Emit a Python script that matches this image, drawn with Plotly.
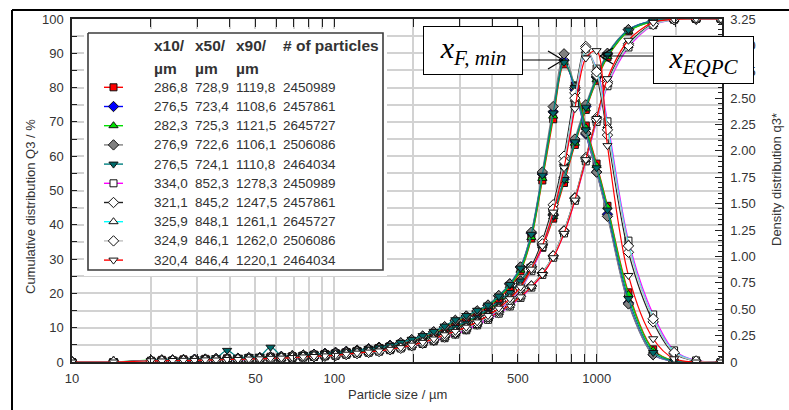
import plotly.graph_objects as go

# Particle size classes (µm)
size_um = [10, 14.4, 20, 22, 24.2, 26.6, 29.3, 32.2, 35.4, 39, 42.9, 47.2, 51.9, 57.1,
           62.8, 69.1, 76, 83.6, 92, 101, 111, 122, 135, 148, 163, 179, 197, 217, 239,
           263, 289, 318, 350, 385, 423, 466, 512, 563, 620, 682, 750, 825, 908, 998,
           1098, 1320, 1640, 1970, 2390, 2970]

# Cumulative distribution Q3 (%) - x_F,min measurements
Q3_red_sq = [0, 0, 0.2, 0.25, 0.3, 0.4, 0.5, 0.55, 0.65, 0.75, 0.9, 1.0, 1.15, 1.3, 1.45, 1.65, 1.85, 2.1, 2.35,
             2.6, 2.9, 3.25, 3.65, 4.1, 4.6, 5.2, 5.85, 6.65, 7.6, 8.65, 9.9, 11.4, 13.1, 15.0, 17.2, 19.8, 23.0,
             27.2, 33.3, 41.8, 52.2, 63.3, 73.5, 82.0, 88.8, 96.4, 99.3, 99.9, 100, 100]
Q3_blue_dia = [0, 0, 0.2, 0.3, 0.35, 0.45, 0.55, 0.6, 0.7, 0.85, 0.95, 1.1, 1.25, 1.4, 1.6, 1.8, 2.0, 2.25, 2.5,
               2.8, 3.1, 3.45, 3.85, 4.3, 4.8, 5.4, 6.1, 6.9, 7.9, 9.0, 10.3, 11.8, 13.5, 15.4, 17.6, 20.3, 23.6,
               27.9, 34.2, 42.8, 53.3, 64.4, 74.5, 83.0, 89.8, 96.9, 99.5, 99.9, 100, 100]
Q3_green_tri = [0, 0, 0.2, 0.3, 0.35, 0.4, 0.5, 0.6, 0.7, 0.8, 0.95, 1.05, 1.2, 1.35, 1.5, 1.7, 1.9, 2.15, 2.4,
                2.7, 3.0, 3.35, 3.75, 4.2, 4.7, 5.3, 6.0, 6.8, 7.75, 8.85, 10.1, 11.6, 13.3, 15.2, 17.4, 20.1, 23.4,
                27.7, 33.9, 42.4, 52.9, 63.8, 73.8, 82.3, 89.0, 96.4, 99.3, 99.9, 100, 100]
Q3_gray_dia = [0, 0, 0.25, 0.3, 0.4, 0.45, 0.55, 0.65, 0.75, 0.85, 1.0, 1.1, 1.25, 1.45, 1.6, 1.8, 2.0, 2.25, 2.5,
               2.8, 3.1, 3.45, 3.85, 4.3, 4.85, 5.45, 6.15, 6.95, 7.95, 9.05, 10.35, 11.85, 13.55, 15.45, 17.6,
               20.3, 23.6, 27.8, 34.1, 42.9, 53.8, 65.0, 75.0, 83.3, 90.0, 96.9, 99.5, 99.9, 100, 100]
Q3_teal_tri = [0, 0, 0.2, 0.3, 0.35, 0.45, 0.55, 0.65, 0.75, 0.9, 1.0, 1.15, 1.3, 1.5, 1.65, 1.85, 2.05, 2.3, 2.55,
               2.85, 3.15, 3.5, 3.9, 4.35, 4.85, 5.45, 6.15, 6.95, 7.9, 9.0, 10.3, 11.8, 13.5, 15.4, 17.6, 20.3,
               23.6, 27.9, 34.2, 42.7, 53.2, 64.2, 74.3, 82.8, 89.6, 96.8, 99.5, 99.9, 100, 100]

# Cumulative distribution Q3 (%) - x_EQPC measurements
Q3_mag_sq = [0, 0, 0.15, 0.2, 0.2, 0.25, 0.3, 0.4, 0.45, 0.5, 0.6, 0.7, 0.8, 0.9, 1.05, 1.2, 1.35, 1.5, 1.7,
             1.95, 2.2, 2.5, 2.8, 3.15, 3.6, 4.1, 4.6, 5.25, 6.05, 6.95, 8.0, 9.25, 10.7, 12.3, 14.1, 16.2, 18.7,
             21.7, 25.4, 30.4, 37.5, 47.0, 58.5, 70.0, 80.4, 91.7, 98.2, 99.8, 100, 100]
Q3_black_dia = [0, 0, 0.15, 0.2, 0.25, 0.3, 0.4, 0.45, 0.5, 0.6, 0.7, 0.8, 0.9, 1.0, 1.15, 1.3, 1.45, 1.65, 1.85,
                2.1, 2.35, 2.65, 3.0, 3.4, 3.85, 4.35, 4.9, 5.55, 6.4, 7.35, 8.45, 9.7, 11.2, 12.8, 14.6, 16.7,
                19.2, 22.2, 26.0, 31.0, 38.3, 47.9, 59.6, 71.2, 81.7, 92.8, 98.6, 99.8, 100, 100]
Q3_cyan_tri = [0, 0, 0.15, 0.2, 0.25, 0.3, 0.35, 0.4, 0.5, 0.55, 0.65, 0.75, 0.85, 0.95, 1.1, 1.25, 1.4, 1.6, 1.8,
               2.05, 2.3, 2.6, 2.95, 3.3, 3.75, 4.25, 4.8, 5.45, 6.25, 7.2, 8.3, 9.55, 11.0, 12.6, 14.4, 16.5,
               19.0, 22.0, 25.8, 30.8, 38.0, 47.5, 59.0, 70.5, 81.0, 92.3, 98.4, 99.8, 100, 100]
Q3_silver_dia = [0, 0, 0.15, 0.2, 0.25, 0.35, 0.4, 0.45, 0.5, 0.6, 0.65, 0.75, 0.85, 1.0, 1.1, 1.25, 1.45, 1.6,
                 1.85, 2.05, 2.35, 2.65, 2.95, 3.35, 3.8, 4.3, 4.85, 5.5, 6.3, 7.25, 8.35, 9.6, 11.05, 12.65,
                 14.45, 16.55, 19.05, 22.1, 25.9, 30.9, 38.1, 47.7, 59.2, 70.7, 81.1, 92.3, 98.4, 99.8, 100, 100]
Q3_red_tri = [0, 0, 0.15, 0.2, 0.25, 0.3, 0.4, 0.45, 0.5, 0.6, 0.7, 0.8, 0.9, 1.0, 1.15, 1.3, 1.5, 1.65, 1.85,
              2.1, 2.4, 2.7, 3.05, 3.45, 3.9, 4.4, 4.95, 5.6, 6.45, 7.4, 8.5, 9.75, 11.2, 12.8, 14.6, 16.6, 19.0,
              21.9, 25.5, 30.4, 37.5, 47.2, 59.0, 71.0, 82.6, 93.8, 99.0, 99.9, 100, 100]

# Density distribution q3* - x_F,min measurements
q3_red_sq = [0, 0, 0.012, 0.02, 0.015, 0.025, 0.02, 0.03, 0.028, 0.035, 0.03, 0.04, 0.038, 0.05, 0.045, 0.055,
             0.06, 0.07, 0.072, 0.08, 0.088, 0.1, 0.11, 0.13, 0.145, 0.175, 0.2, 0.235, 0.275, 0.32, 0.38, 0.42,
             0.47, 0.52, 0.6, 0.71, 0.86, 1.17, 1.72, 2.3, 2.82, 2.62, 2.24, 1.88, 1.48, 0.66, 0.12, 0.01, 0, 0]
q3_blue_dia = [0, 0, 0.015, 0.018, 0.02, 0.02, 0.026, 0.025, 0.032, 0.03, 0.036, 0.04, 0.042, 0.045, 0.052, 0.055,
               0.065, 0.068, 0.076, 0.082, 0.09, 0.1, 0.118, 0.13, 0.155, 0.18, 0.21, 0.245, 0.285, 0.33, 0.39,
               0.435, 0.48, 0.535, 0.625, 0.74, 0.9, 1.22, 1.78, 2.37, 2.86, 2.58, 2.16, 1.8, 1.4, 0.56, 0.07,
               0.005, 0, 0]
q3_green_tri = [0, 0, 0.018, 0.015, 0.022, 0.02, 0.025, 0.03, 0.027, 0.034, 0.038, 0.036, 0.044, 0.048, 0.05,
                0.058, 0.062, 0.07, 0.074, 0.08, 0.092, 0.1, 0.112, 0.13, 0.15, 0.178, 0.21, 0.24, 0.28, 0.33,
                0.385, 0.43, 0.48, 0.53, 0.615, 0.725, 0.87, 1.18, 1.74, 2.33, 2.84, 2.62, 2.22, 1.86, 1.47, 0.64,
                0.11, 0.01, 0, 0]
q3_gray_dia = [0, 0, 0.016, 0.02, 0.018, 0.024, 0.025, 0.028, 0.032, 0.03, 0.036, 0.04, 0.04, 0.047, 0.05, 0.057,
               0.064, 0.07, 0.075, 0.083, 0.09, 0.102, 0.116, 0.132, 0.152, 0.182, 0.212, 0.245, 0.285, 0.335,
               0.395, 0.435, 0.485, 0.54, 0.63, 0.74, 0.9, 1.23, 1.8, 2.42, 2.92, 2.6, 2.17, 1.8, 1.38, 0.55,
               0.07, 0.005, 0, 0]
q3_teal_tri = [0, 0, 0.015, 0.02, 0.025, 0.022, 0.03, 0.035, 0.04, 0.11, 0.045, 0.05, 0.055, 0.14, 0.06, 0.035,
               0.07, 0.075, 0.08, 0.085, 0.095, 0.105, 0.12, 0.135, 0.155, 0.185, 0.215, 0.25, 0.29, 0.34, 0.4,
               0.44, 0.49, 0.54, 0.625, 0.735, 0.89, 1.21, 1.77, 2.36, 2.84, 2.6, 2.2, 1.84, 1.44, 0.6, 0.09,
               0.008, 0, 0]

# Density distribution q3* - x_EQPC measurements
q3_mag_sq = [0, 0, 0.01, 0.008, 0.012, 0.014, 0.012, 0.018, 0.017, 0.022, 0.02, 0.025, 0.03, 0.03, 0.036, 0.038,
             0.044, 0.048, 0.055, 0.058, 0.068, 0.078, 0.088, 0.098, 0.112, 0.128, 0.15, 0.175, 0.205, 0.24,
             0.275, 0.31, 0.36, 0.42, 0.49, 0.58, 0.69, 0.86, 1.09, 1.42, 1.86, 2.45, 2.94, 2.78, 2.28, 1.15,
             0.45, 0.11, 0.015, 0]
q3_black_dia = [0, 0, 0.012, 0.012, 0.015, 0.013, 0.017, 0.018, 0.02, 0.022, 0.025, 0.027, 0.03, 0.034, 0.038,
                0.042, 0.046, 0.052, 0.056, 0.062, 0.072, 0.082, 0.092, 0.102, 0.118, 0.134, 0.158, 0.185, 0.215,
                0.255, 0.285, 0.325, 0.375, 0.435, 0.505, 0.6, 0.71, 0.9, 1.15, 1.49, 1.95, 2.55, 2.99, 2.72,
                2.15, 1.04, 0.38, 0.08, 0.008, 0]
q3_cyan_tri = [0, 0, 0.01, 0.012, 0.011, 0.015, 0.016, 0.016, 0.02, 0.02, 0.024, 0.026, 0.028, 0.034, 0.035,
               0.04, 0.045, 0.05, 0.054, 0.06, 0.07, 0.079, 0.09, 0.1, 0.114, 0.13, 0.155, 0.18, 0.21, 0.25, 0.28,
               0.32, 0.37, 0.43, 0.5, 0.59, 0.7, 0.87, 1.11, 1.44, 1.89, 2.49, 2.95, 2.77, 2.24, 1.12, 0.42, 0.1,
               0.012, 0]
q3_silver_dia = [0, 0, 0.01, 0.011, 0.013, 0.014, 0.015, 0.018, 0.019, 0.021, 0.024, 0.026, 0.03, 0.032, 0.037,
                 0.04, 0.046, 0.05, 0.056, 0.06, 0.071, 0.08, 0.091, 0.1, 0.116, 0.13, 0.156, 0.18, 0.21, 0.25,
                 0.28, 0.32, 0.37, 0.43, 0.5, 0.59, 0.7, 0.88, 1.12, 1.45, 1.9, 2.5, 2.97, 2.75, 2.2, 1.1, 0.41,
                 0.09, 0.01, 0]
q3_red_tri = [0, 0, 0.012, 0.01, 0.014, 0.016, 0.015, 0.02, 0.019, 0.024, 0.024, 0.028, 0.03, 0.035, 0.037,
              0.042, 0.048, 0.052, 0.058, 0.063, 0.074, 0.084, 0.094, 0.105, 0.12, 0.136, 0.16, 0.186, 0.218,
              0.258, 0.29, 0.33, 0.38, 0.44, 0.51, 0.6, 0.71, 0.88, 1.1, 1.42, 1.84, 2.4, 2.88, 2.95, 2.05, 0.82,
              0.22, 0.03, 0, 0]

# Legend table values
x10_um = ["286,8", "276,5", "282,3", "276,9", "276,5", "334,0", "321,1", "325,9", "324,9", "320,4"]
x50_um = ["728,9", "723,4", "725,3", "722,6", "724,1", "852,3", "845,2", "848,1", "846,1", "846,4"]
x90_um = ["1119,8", "1108,6", "1121,5", "1106,1", "1110,8", "1278,3", "1247,5", "1261,1", "1262,0", "1220,1"]
n_particles = ["2450989", "2457861", "2645727", "2506086", "2464034",
               "2450989", "2457861", "2645727", "2506086", "2464034"]

# Axis tick labels
x_tick_labels = {10: "10", 50: "50", 100: "100", 500: "500", 1000: "1000"}
q3_tick_labels = ["0", "0.25", "0.50", "0.75", "1.00", "1.25", "1.50", "1.75", "2.00",
                  "2.25", "2.50", "2.75", "3.00", "3.25"]

cum_series = [Q3_red_sq, Q3_blue_dia, Q3_green_tri, Q3_gray_dia, Q3_teal_tri,
              Q3_mag_sq, Q3_black_dia, Q3_cyan_tri, Q3_silver_dia, Q3_red_tri]
dens_series = [q3_red_sq, q3_blue_dia, q3_green_tri, q3_gray_dia, q3_teal_tri,
               q3_mag_sq, q3_black_dia, q3_cyan_tri, q3_silver_dia, q3_red_tri]

# Styles
line_colors = ["#ff0000", "#0000ff", "#00e000", "#808080", "#008080",
               "#ff00ff", "#202020", "#00ffff", "#c0c0c0", "#ff0000"]
symbols = ["square", "diamond", "triangle-up", "diamond", "triangle-down",
           "square", "diamond", "triangle-up", "diamond", "triangle-down"]
fills = ["#ff0000", "#0000ff", "#00e000", "#808080", "#006a6a",
         "#ffffff", "#ffffff", "#ffffff", "#ffffff", "#ffffff"]
msizes = [7, 8, 8, 8, 8, 7, 8, 8, 8, 8]

TXT = "#333333"
FONT = "Liberation Sans, Arial, sans-serif"

W, H = 789, 410
L, R, T, B = 72, 722, 19, 362


def px(x):
    return (x - L) / (R - L)


def py(y):
    return (B - y) / (B - T)


fig = go.Figure()

for i in range(10):
    mk = dict(symbol=symbols[i], size=msizes[i], color=fills[i],
              line=dict(color="#111111", width=1))
    ln = dict(color=line_colors[i], width=1.2, shape="spline", smoothing=0.9)
    fig.add_trace(go.Scatter(x=size_um, y=cum_series[i], mode="lines+markers",
                             line=ln, marker=mk, yaxis="y", showlegend=False,
                             hoverinfo="skip"))
    fig.add_trace(go.Scatter(x=size_um, y=dens_series[i], mode="lines+markers",
                             line=ln, marker=mk, yaxis="y2", showlegend=False,
                             hoverinfo="skip"))

# Legend table panel on its own small subplot (pixel-like coordinates)
lx0, lx1, ly0, ly1 = 84, 387, 29, 276
fig.add_trace(go.Scatter(x=[88, 383, 383, 88, 88], y=[33, 33, 270, 270, 33],
                         mode="lines", fill="toself", fillcolor="white",
                         line=dict(color="#3c3c3c", width=1.6),
                         xaxis="x3", yaxis="y3", showlegend=False, hoverinfo="skip"))
row_y = [87.3 + 19.2 * k for k in range(10)]
for i in range(10):
    fig.add_trace(go.Scatter(x=[104, 123], y=[row_y[i], row_y[i]], mode="lines",
                             line=dict(color=line_colors[i], width=1.4),
                             xaxis="x3", yaxis="y3", showlegend=False, hoverinfo="skip"))
    fig.add_trace(go.Scatter(x=[113.5], y=[row_y[i]], mode="markers",
                             marker=dict(symbol=symbols[i], size=msizes[i], color=fills[i],
                                         line=dict(color="#111111", width=1)),
                             xaxis="x3", yaxis="y3", showlegend=False, hoverinfo="skip"))

annotations = []
col_x = [152, 193, 234, 281]
for cx, head in zip(col_x, ["x10/", "x50/", "x90/", "# of particles"]):
    annotations.append(dict(x=cx, y=46, xref="x3", yref="y3", text="<b>%s</b>" % head,
                            showarrow=False, xanchor="left", yanchor="middle",
                            font=dict(family=FONT, size=15.5, color=TXT)))
for cx in col_x[:3]:
    annotations.append(dict(x=cx, y=68, xref="x3", yref="y3", text="<b>µm</b>",
                            showarrow=False, xanchor="left", yanchor="middle",
                            font=dict(family=FONT, size=15.5, color=TXT)))
for i in range(10):
    for cx, val in zip(col_x, [x10_um[i], x50_um[i], x90_um[i], n_particles[i]]):
        annotations.append(dict(x=cx, y=row_y[i], xref="x3", yref="y3", text=val,
                                showarrow=False, xanchor="left", yanchor="middle",
                                font=dict(family=FONT, size=13.5, color=TXT)))

# Axis titles
annotations.append(dict(x=px(397), y=py(395), xref="paper", yref="paper",
                        xanchor="center", yanchor="middle",
                        text="Particle size / µm", showarrow=False,
                        font=dict(family=FONT, size=13, color=TXT)))
annotations.append(dict(x=px(30), y=py(207), xref="paper", yref="paper",
                        xanchor="center", yanchor="middle",
                        text="Cumulative distribution Q3 / %", textangle=-90, showarrow=False,
                        font=dict(family=FONT, size=13, color=TXT)))
annotations.append(dict(x=px(776), y=py(180), xref="paper", yref="paper",
                        xanchor="center", yanchor="middle",
                        text="Density distribution q3*", textangle=-90, showarrow=False,
                        font=dict(family=FONT, size=13, color=TXT)))

# Labelled boxes for the two size definitions
SERIF = "Liberation Serif, Times New Roman, serif"
annotations.append(dict(x=px(473), y=py(50.5), xref="paper", yref="paper",
                        xanchor="center", yanchor="middle",
                        text="<i>x<sub>F, min</sub></i>", showarrow=False,
                        width=98, height=47, borderpad=0, bgcolor="white",
                        bordercolor="black", borderwidth=1,
                        font=dict(family=SERIF, size=30, color="black")))
annotations.append(dict(x=px(703.5), y=py(60), xref="paper", yref="paper",
                        xanchor="center", yanchor="middle",
                        text="<i>x<sub>EQPC</sub></i>", showarrow=False,
                        width=99, height=46, borderpad=0, bgcolor="white",
                        bordercolor="black", borderwidth=1,
                        font=dict(family=SERIF, size=30, color="black")))

shapes = []


def seg(x0, y0, x1, y1, w=1.2, c="black"):
    shapes.append(dict(type="line", xref="paper", yref="paper",
                       x0=px(x0), y0=py(y0), x1=px(x1), y1=py(y1),
                       line=dict(color=c, width=w), layer="above"))


# arrows
seg(523, 60, 563, 60)
seg(563, 60, 548, 51)
seg(563, 60, 548, 69)
seg(653, 56, 600, 56)
seg(600, 56, 613, 48)
seg(600, 56, 613, 64)
# outer frame
seg(12, 10, 789, 10, w=2)
seg(12, 10, 12, 410, w=2)

x_ticks = [m * 10 ** e for e in (1, 2, 3) for m in range(1, 10) if m * 10 ** e <= 3000]
x_text = [x_tick_labels.get(v, "") for v in x_ticks]

fig.update_layout(
    width=W, height=H,
    margin=dict(l=L, r=W - R, t=T, b=H - B, pad=0),
    paper_bgcolor="white", plot_bgcolor="white",
    font=dict(family=FONT, size=13, color=TXT),
    showlegend=False,
    xaxis=dict(type="log", range=[1, 3.4771], tickvals=x_ticks, ticktext=x_text,
               showgrid=True, gridcolor="#d2d2d2", gridwidth=1.5,
               ticks="inside", ticklen=8, tickcolor="#222", tickwidth=1,
               showline=True, linecolor="#222", linewidth=1.5, mirror="ticks",
               zeroline=False, ticklabelstandoff=4,
               tickfont=dict(family=FONT, size=13, color=TXT)),
    yaxis=dict(range=[0, 100], tickvals=list(range(0, 101, 10)),
               showgrid=True, gridcolor="#d2d2d2", gridwidth=1.5,
               ticks="inside", ticklen=5, tickcolor="#222",
               minor=dict(dtick=5, showgrid=True, gridcolor="#d2d2d2", gridwidth=1.5,
                          ticks="inside", ticklen=5, tickcolor="#222"),
               showline=True, linecolor="#222", linewidth=1.5, zeroline=False,
               ticklabelstandoff=4, tickfont=dict(family=FONT, size=13, color=TXT)),
    yaxis2=dict(range=[0, 3.25], overlaying="y", side="right",
                tickvals=[0.25 * k for k in range(14)], ticktext=q3_tick_labels,
                showgrid=False, ticks="inside", ticklen=7, tickcolor="#222",
                minor=dict(dtick=0.05, ticks="inside", ticklen=4, tickcolor="#222",
                           showgrid=False),
                showline=True, linecolor="#222", linewidth=1.5, zeroline=False,
                ticklabelstandoff=4, tickfont=dict(family=FONT, size=13, color=TXT)),
    xaxis3=dict(domain=[px(lx0), px(lx1)], range=[lx0, lx1], visible=False,
                anchor="y3", fixedrange=True),
    yaxis3=dict(domain=[py(ly1), py(ly0)], range=[ly1, ly0], visible=False,
                anchor="x3", fixedrange=True),
    annotations=annotations,
    shapes=shapes,
)

fig.write_html("out.html")
